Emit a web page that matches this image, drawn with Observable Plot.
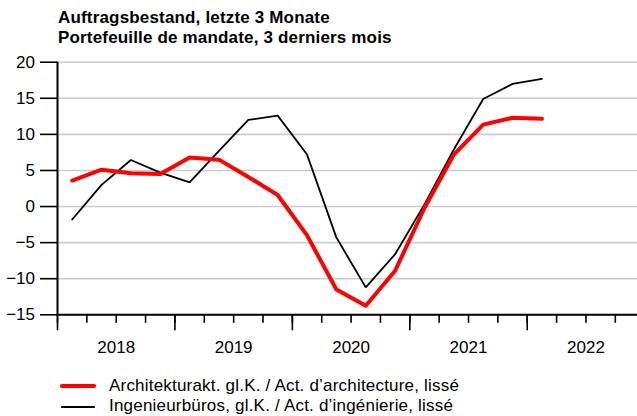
<!DOCTYPE html>
<html><head><meta charset="utf-8">
<script src="https://cdn.jsdelivr.net/npm/d3@7"></script>
<script src="https://cdn.jsdelivr.net/npm/@observablehq/plot@0.6"></script>
<style>
html,body{margin:0;padding:0;background:#fff;}
body{font-family:"Liberation Sans",Arial,Helvetica,sans-serif;color:#000;width:637px;height:416px;position:relative;overflow:hidden;}
#title{position:absolute;left:58px;top:8px;font-weight:bold;font-size:17px;line-height:20px;letter-spacing:0.17px;white-space:nowrap;}
#chart{position:absolute;left:0;top:50px;}
.legtext{position:absolute;left:109px;font-size:17px;line-height:21px;letter-spacing:0.2px;white-space:nowrap;}
.legsw{position:absolute;left:56px;}
</style></head>
<body>
<div id="title">Auftragsbestand, letzte 3 Monate<br>Portefeuille de mandate, 3 derniers mois</div>
<div id="chart"></div>
<div id="legend"></div>
<script>
const quarters = ["2018 Q1","2018 Q2","2018 Q3","2018 Q4","2019 Q1","2019 Q2","2019 Q3","2019 Q4","2020 Q1","2020 Q2","2020 Q3","2020 Q4","2021 Q1","2021 Q2","2021 Q3","2021 Q4","2022 Q1"];
const architektur = [3.6, 5.1, 4.6, 4.5, 6.8, 6.5, 4.1, 1.6, -4.0, -11.5, -13.75, -8.9, -0.2, 7.2, 11.35, 12.3, 12.15];
const ingenieur = [-1.8, 3.0, 6.45, 4.7, 3.35, 7.7, 12.0, 12.6, 7.2, -4.3, -11.2, -6.6, 0.3, 7.9, 14.9, 17.0, 17.7];
const seriesNames = ["Architekturakt. gl.K. / Act. d\u2019architecture, lissé", "Ingenieurbüros, gl.K. / Act. d\u2019ingénierie, lissé"];
const seriesColors = ["#ff0000", "#000000"];
const yearLabels = [2018, 2019, 2020, 2021, 2022];
const yTicks = [-15, -10, -5, 0, 5, 10, 15, 20];

const qx = q => { const [y, k] = q.split(" Q"); return +y + (+k - 0.5) / 4; };
const rows = s => quarters.map((q, i) => ({x: qx(q), v: s[i]}));
const archData = rows(architektur);
const engData = rows(ingenieur);
const yearStarts = yearLabels.slice();
const quarterStarts = yearLabels.flatMap(y => [y, y + 0.25, y + 0.5, y + 0.75]);
const yearMids = yearLabels.map(y => y + 0.5);

const chart = Plot.plot({
  width: 637,
  height: 320,
  marginLeft: 57,
  marginRight: 0,
  marginTop: 11.7,
  marginBottom: 55.7,
  style: {fontFamily: "Liberation Sans, Arial, sans-serif", fontSize: "17px", color: "#000", background: "#fff"},
  x: {domain: [2018, 2022.939]},
  y: {domain: [-15, 20]},
  marks: [
    Plot.gridY(yTicks, {stroke: "#cccccc", strokeOpacity: 1, strokeWidth: 1.6}),
    Plot.axisY(yTicks, {tickSize: 17, tickPadding: 5.5, fontSize: 17, strokeWidth: 1.6, label: null}),
    Plot.axisX(quarterStarts, {tickSize: 8.5, tickFormat: () => "", strokeWidth: 1.6, label: null}),
    Plot.axisX(yearStarts, {tickSize: 16, tickFormat: () => "", strokeWidth: 1.6, label: null}),
    Plot.axisX(yearMids, {tickSize: 0, tickPadding: 26.3, fontSize: 17, tickFormat: d => String(Math.floor(d)), label: null}),
    Plot.ruleY([-15], {stroke: "#000", strokeWidth: 2}),
    Plot.ruleX([2018], {y1: -15, y2: 20, stroke: "#000", strokeWidth: 2}),
    Plot.line(engData, {x: "x", y: "v", stroke: seriesColors[1], strokeWidth: 1.8, strokeLinejoin: "miter"}),
    Plot.line(archData, {x: "x", y: "v", stroke: seriesColors[0], strokeWidth: 4, strokeLinejoin: "round"})
  ]
});
document.getElementById("chart").appendChild(chart);

const legend = document.getElementById("legend");
const textTops = [374.6, 395.3];
const swatchCenters = [386, 406.7];
seriesNames.forEach((name, i) => {
  const w = i === 0 ? 4.2 : 2.2;
  const sw = document.createElement("div");
  sw.className = "legsw";
  sw.style.top = (swatchCenters[i] - 8) + "px";
  sw.innerHTML = `<svg width="44" height="16" style="display:block"><line x1="6" y1="8" x2="38" y2="8" stroke="${seriesColors[i]}" stroke-width="${w}" stroke-linecap="round"/></svg>`;
  legend.appendChild(sw);
  const t = document.createElement("div");
  t.className = "legtext";
  t.style.top = textTops[i] + "px";
  t.textContent = name;
  legend.appendChild(t);
});
</script>
</body></html>
